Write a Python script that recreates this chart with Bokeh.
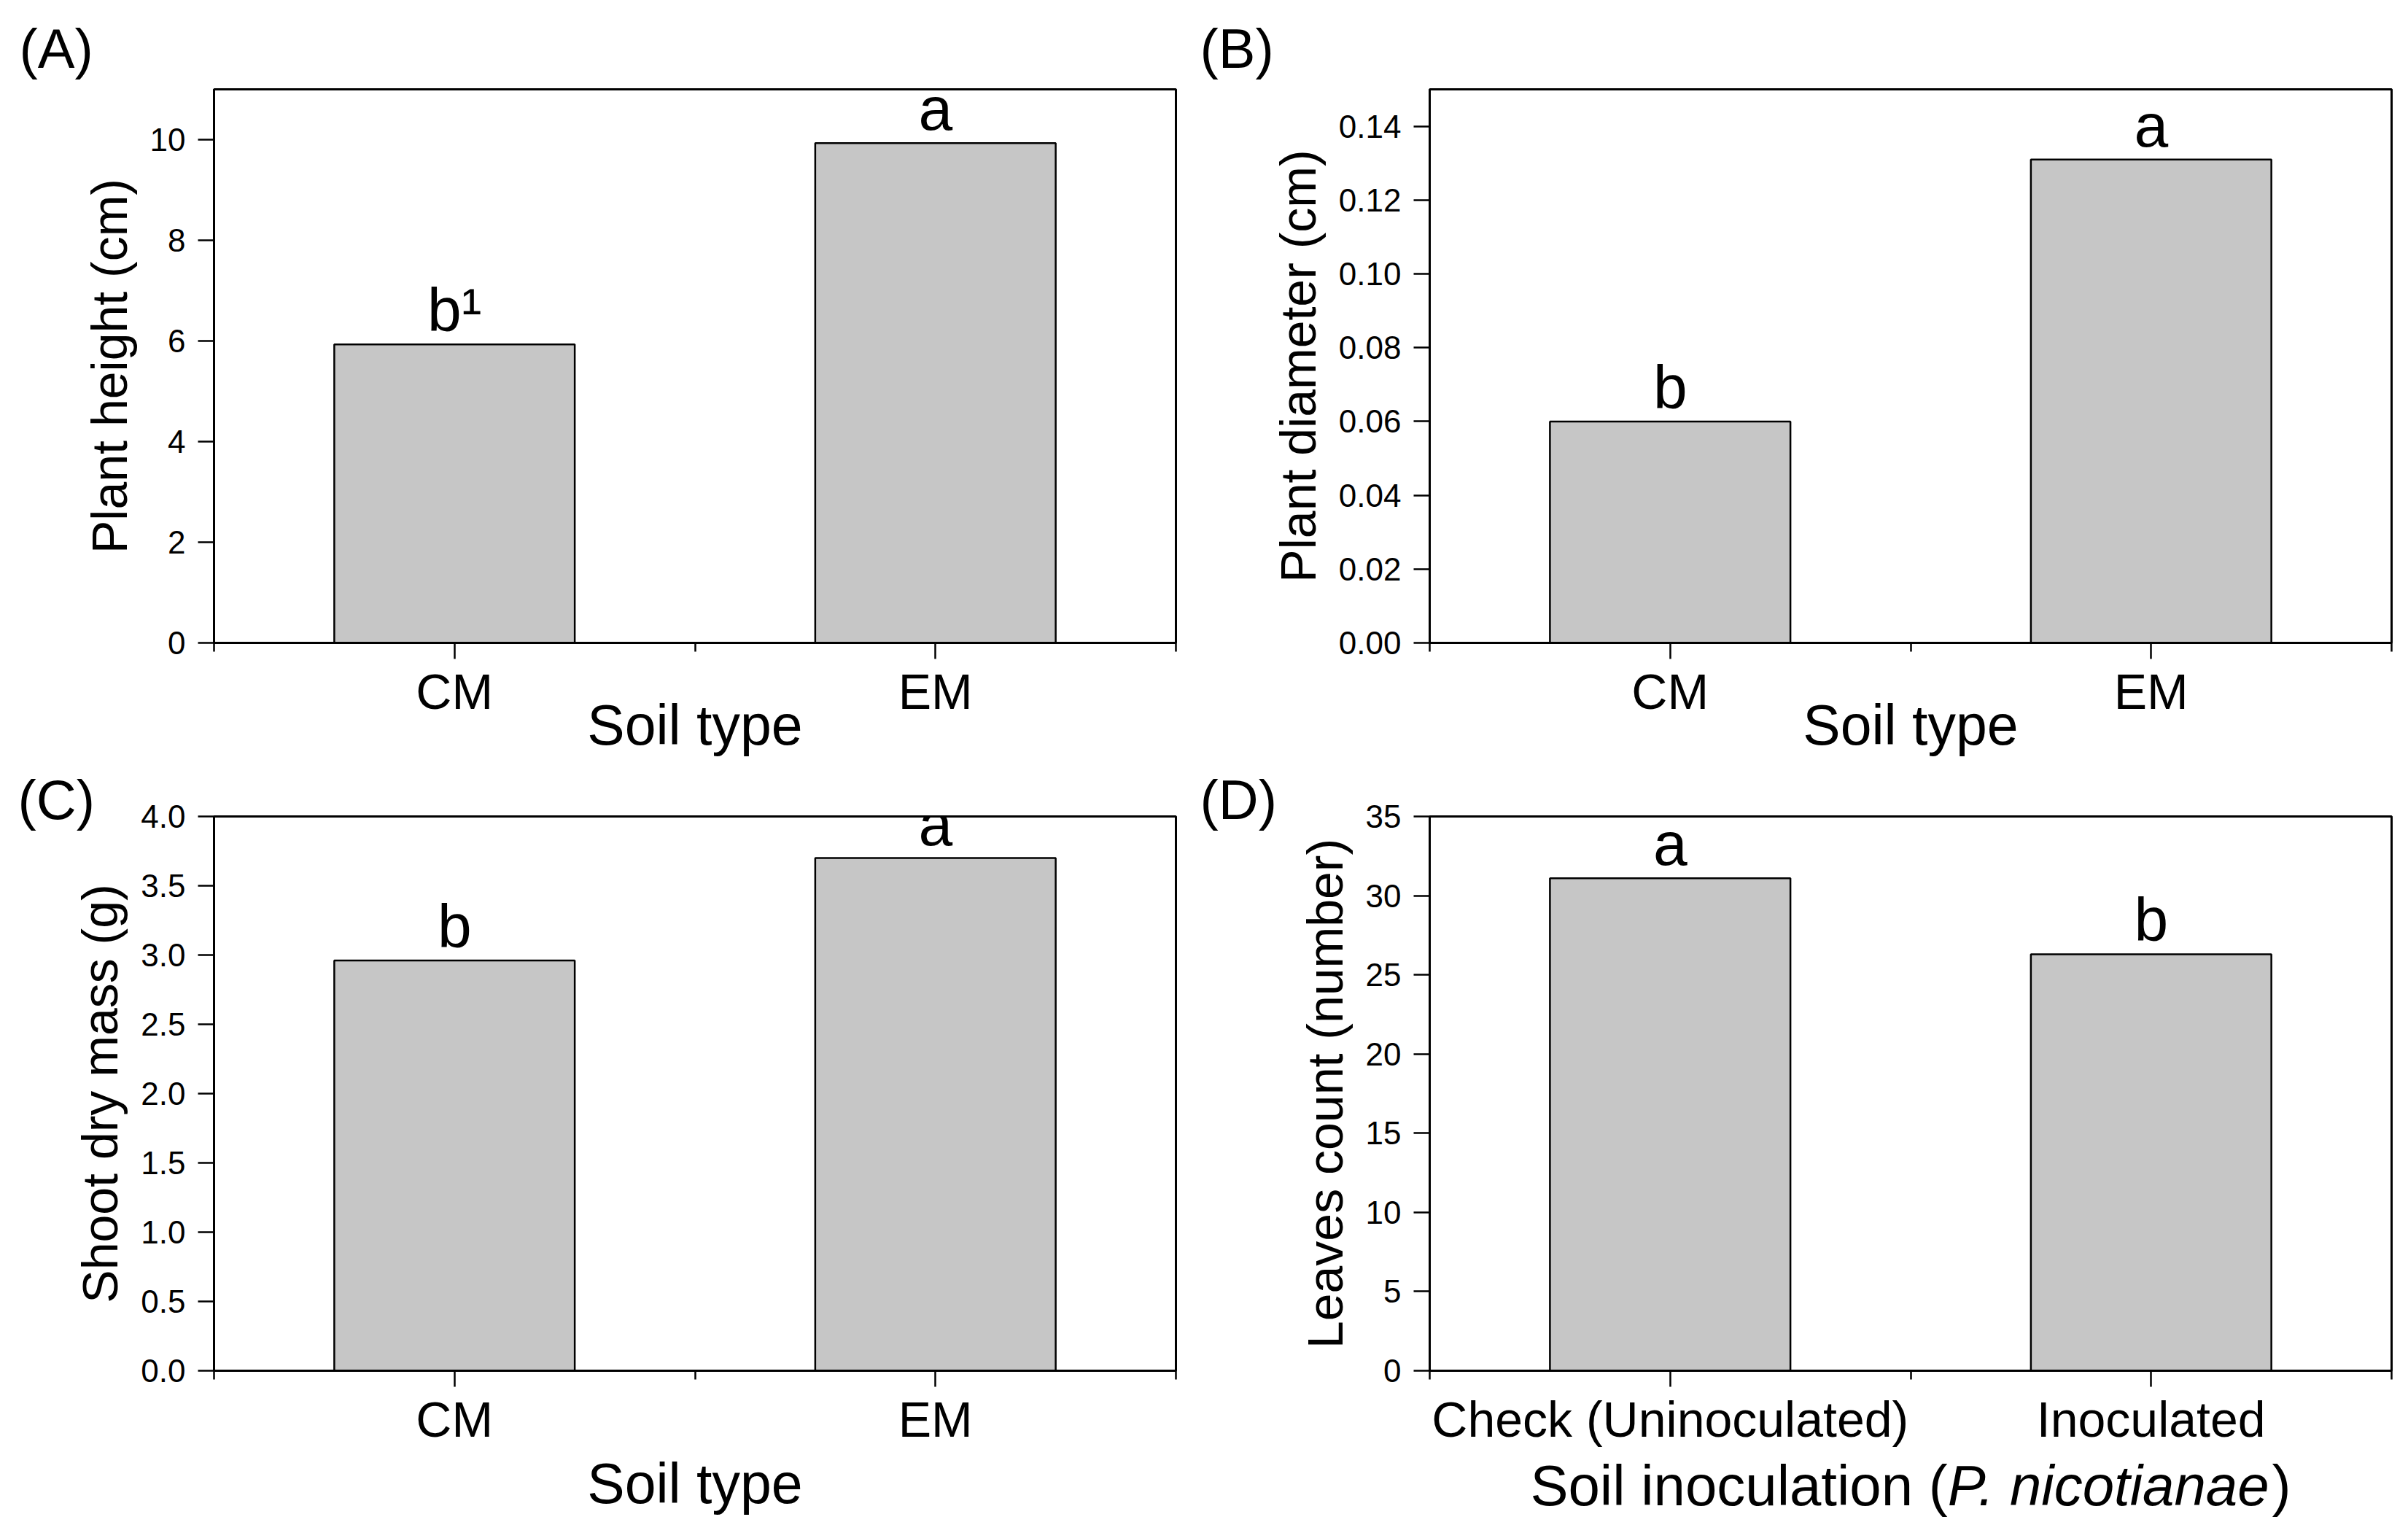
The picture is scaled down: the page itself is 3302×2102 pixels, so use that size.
from bokeh.plotting import figure
from bokeh.models import Range1d, FixedTicker, PrintfTickFormatter, Title, ColumnDataSource
from bokeh.layouts import row, column
from bokeh.embed import file_html
from bokeh.resources import INLINE
from bokeh.core.properties import value

FONT = "Liberation Sans"

# ---------------- data ----------------
soil_types = ["CM", "EM"]
inoculation_groups = ["Check (Uninoculated)", "Inoculated"]

plant_height_cm = [5.93, 9.93]
plant_height_letters = ["b\u00b9", "a"]

plant_diameter_cm = [0.060, 0.131]
plant_diameter_letters = ["b", "a"]

shoot_dry_mass_g = [2.96, 3.70]
shoot_dry_mass_letters = ["b", "a"]

leaves_count = [31.1, 26.3]
leaves_count_letters = ["a", "b"]

height_ticks = [0, 2, 4, 6, 8, 10]
diameter_ticks = [0.00, 0.02, 0.04, 0.06, 0.08, 0.10, 0.12, 0.14]
mass_ticks = [0.0, 0.5, 1.0, 1.5, 2.0, 2.5, 3.0, 3.5, 4.0]
leaves_ticks = [0, 5, 10, 15, 20, 25, 30, 35]

d_title_parts = ["Soil inoculation (", "P. nicotianae", ")"]
d_title_styles = ["normal", "italic", "normal"]

# Arial / Liberation Sans advance widths (per 1000 em)
ARIAL_W = {' ': 278, '(': 333, ')': 333, '.': 278, 'P': 667, 'S': 667, 'a': 556,
           'c': 500, 'e': 556, 'i': 222, 'l': 222, 'n': 556, 'o': 556, 't': 278,
           'u': 556, 'b': 556, 'm': 833, 'r': 333}


def text_width(s, size):
    return sum(ARIAL_W.get(ch, 556) for ch in s) * size / 1000.0


FRAME_W = 1319
XLABEL_PX = 77
DTITLE_PX = 78
PANEL_LABEL_PX = 76


def make_panel(cats, vals, letters, yticks, yfmt, ymax, ytitle, xtitle,
               panel_label, width, height, borders, label_offset, label_standoff,
               xtitle_standoff):
    n = len(cats)
    xs = [i + 0.5 for i in range(n)]
    bl, br, bt, bb = borders
    p = figure(width=width, height=height,
               x_range=Range1d(0, n), y_range=Range1d(0, ymax),
               output_backend="svg", toolbar_location=None, title=None,
               min_border_left=bl, min_border_right=br,
               min_border_top=bt, min_border_bottom=bb)
    p.xgrid.visible = False
    p.ygrid.visible = False
    p.outline_line_color = "black"
    p.outline_line_width = 3
    p.outline_line_alpha = 1.0
    p.background_fill_color = "white"
    p.border_fill_color = "white"

    src = ColumnDataSource(dict(x=xs, top=vals, letter=letters))
    p.vbar(x="x", top="top", bottom=0, width=0.5, source=src,
           fill_color="#c6c6c6", line_color="black", line_width=2.5)
    p.text(x="x", y="top", text="letter", source=src,
           text_align="center", text_baseline="alphabetic", y_offset=-47,
           text_font=value(FONT), text_font_size="84px", text_color="black")

    # x axis
    xa = p.xaxis[0]
    xa.ticker = FixedTicker(ticks=xs, minor_ticks=list(range(n + 1)))
    xa.major_label_overrides = {x: c for x, c in zip(xs, cats)}
    xa.axis_line_width = 3
    xa.axis_line_color = "black"
    xa.major_tick_out = 22
    xa.major_tick_in = 0
    xa.minor_tick_out = 12
    xa.minor_tick_in = 0
    xa.major_tick_line_width = 2.5
    xa.minor_tick_line_width = 2.5
    xa.major_tick_line_color = "black"
    xa.minor_tick_line_color = "black"
    xa.major_label_text_font = FONT
    xa.major_label_text_font_size = "68px"
    xa.major_label_text_color = "black"
    xa.major_label_standoff = 6
    if xtitle:
        xa.axis_label = xtitle
        xa.axis_label_text_font = FONT
        xa.axis_label_text_font_size = f"{XLABEL_PX}px"
        xa.axis_label_text_font_style = "normal"
        xa.axis_label_text_color = "black"
        xa.axis_label_standoff = xtitle_standoff

    # y axis
    ya = p.yaxis[0]
    ya.ticker = FixedTicker(ticks=yticks, minor_ticks=[])
    ya.formatter = PrintfTickFormatter(format=yfmt)
    ya.axis_line_width = 3
    ya.axis_line_color = "black"
    ya.major_tick_out = 22
    ya.major_tick_in = 0
    ya.minor_tick_line_color = None
    ya.major_tick_line_width = 2.5
    ya.major_tick_line_color = "black"
    ya.major_label_text_font = FONT
    ya.major_label_text_font_size = "44px"
    ya.major_label_text_color = "black"
    ya.major_label_standoff = 17
    ya.axis_label = ytitle
    ya.axis_label_text_font = FONT
    ya.axis_label_text_font_size = "68px"
    ya.axis_label_text_font_style = "normal"
    ya.axis_label_text_color = "black"
    ya.axis_label_standoff = 15

    p.add_layout(Title(text=panel_label, align="left", offset=label_offset,
                       standoff=label_standoff, vertical_align="bottom",
                       text_font=FONT, text_font_size=f"{PANEL_LABEL_PX}px",
                       text_font_style="normal", text_color="black"), "above")
    return p


# layout: column widths 1643 / 1643, row heights 1045 / 1049
pA = make_panel(soil_types, plant_height_cm, plant_height_letters, height_ticks, "%d", 11,
                "Plant height (cm)", "Soil type", "(A)",
                1643, 1045, (293, 31, 122, 164), -267, 28, -38)
pB = make_panel(soil_types, plant_diameter_cm, plant_diameter_letters, diameter_ticks, "%.2f", 0.15,
                "Plant diameter (cm)", "Soil type", "(B)",
                1643, 1045, (317, 7, 122, 164), -315, 28, -38)
pC = make_panel(soil_types, shoot_dry_mass_g, shoot_dry_mass_letters, mass_ticks, "%.1f", 4.0,
                "Shoot dry mass (g)", "Soil type", "(C)",
                1643, 1049, (293, 31, 74, 215), -269, -38, 4)
pD = make_panel(inoculation_groups, leaves_count, leaves_count_letters, leaves_ticks, "%d", 35,
                "Leaves count (number)", None, "(D)",
                1643, 946, (317, 7, 74, 112), -315, -38, 0)

# strip below D holding its x-axis title (regular + italic species name);
# its frame is aligned with D's frame by the column layout
STRIP_H = 103
strip = figure(width=1643, height=STRIP_H, x_range=Range1d(0, FRAME_W), y_range=Range1d(0, STRIP_H),
               output_backend="svg", toolbar_location=None, title=None,
               x_axis_type=None, y_axis_type=None,
               min_border_left=317, min_border_right=7, min_border_top=0, min_border_bottom=0)
strip.xgrid.visible = False
strip.ygrid.visible = False
strip.outline_line_color = None
strip.background_fill_color = "white"
strip.border_fill_color = "white"

widths = [text_width(s, DTITLE_PX) for s in d_title_parts]
widths[1] -= 6  # italic run is visually tighter before the closing parenthesis
total = sum(widths)
x0 = FRAME_W / 2.0 - total / 2.0
xs_parts = []
for w in widths:
    xs_parts.append(x0)
    x0 += w
strip_src = ColumnDataSource(dict(x=xs_parts, y=[58] * len(d_title_parts),
                                  text=d_title_parts, style=d_title_styles))
strip.text(x="x", y="y", text="text", source=strip_src, text_font_style="style",
           text_align="left", text_baseline="alphabetic",
           text_font=value(FONT), text_font_size=f"{DTITLE_PX}px", text_color="black")

page = column(row(pA, pB), row(pC, column(pD, strip)))

open("out.html", "w").write(file_html(page, INLINE))
